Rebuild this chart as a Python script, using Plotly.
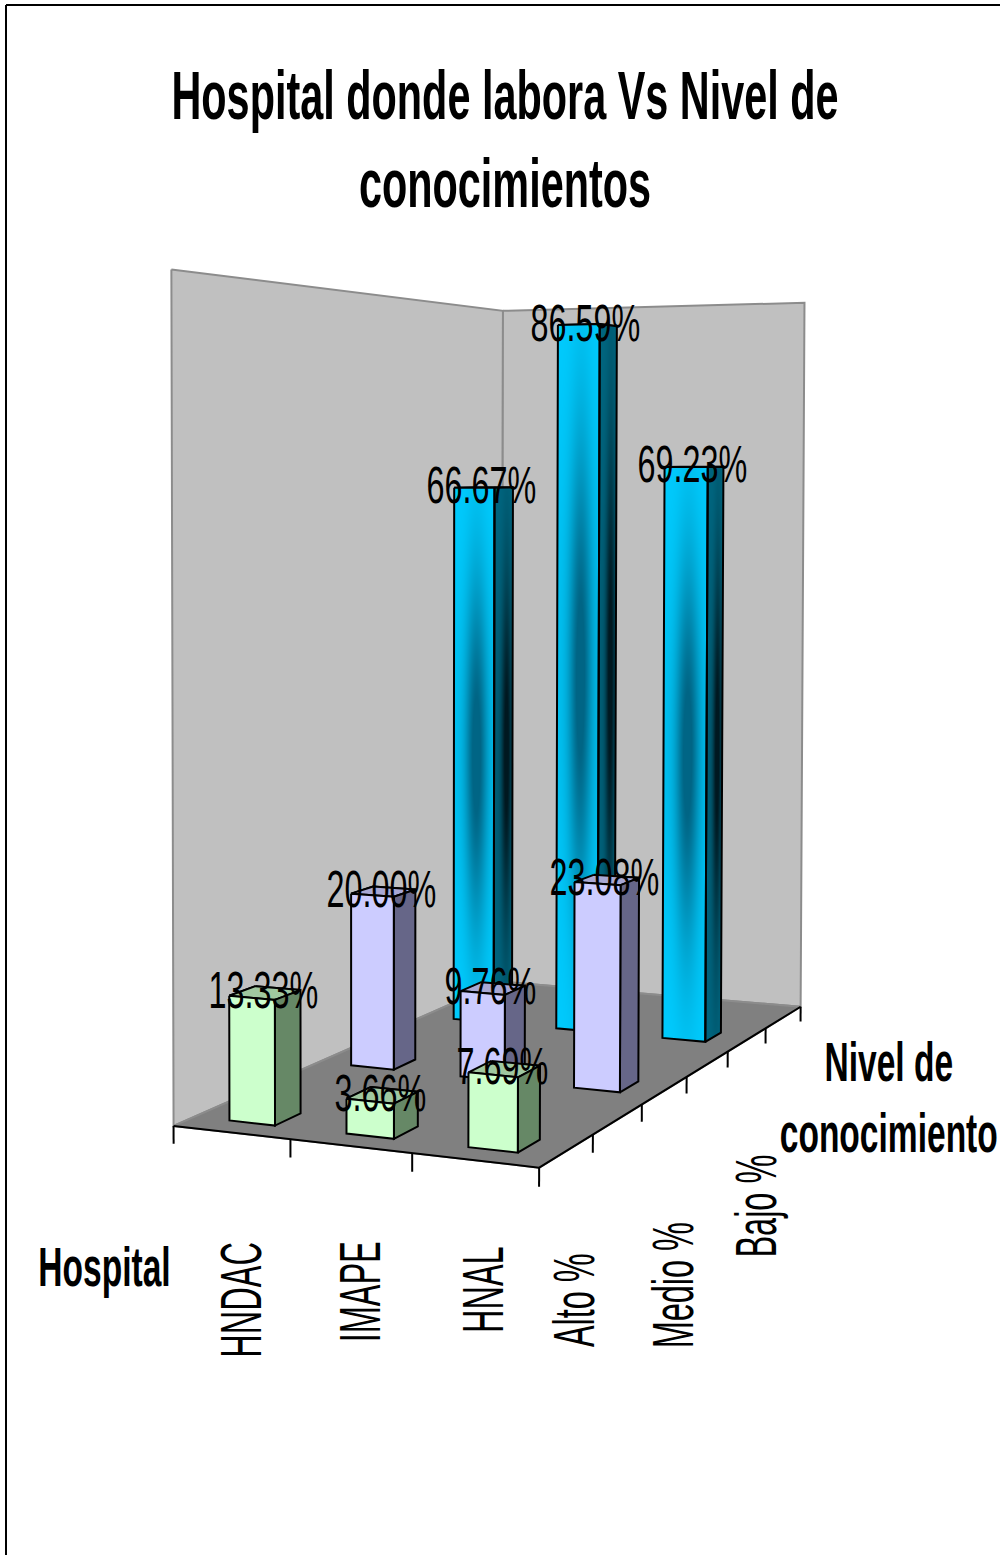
import json
import numpy as np
import plotly.graph_objects as go

# ---- data ----
hospitals = ["HNDAC", "IMAPE", "HNAL"]
levels = ["Alto %", "Medio %", "Bajo %"]
alto = [13.33, 3.66, 7.69]
medio = [20.00, 9.76, 23.08]
bajo = [66.67, 86.59, 69.23]

chart_title = "Hospital donde labora Vs Nivel de<br>conocimientos"
hospital_axis_title = "Hospital"
level_axis_title = "Nivel de<br>conocimiento"

# ---- style ----
WIDTH, HEIGHT = 1000, 1555
Z_TOP = 90.0
HALF_X, HALF_Y = 0.197, 0.10
ROW_CENTRES = [0.255, 1.25, 2.24]
FONT = "Liberation Sans"
WALL, WALL_EDGE, FLOOR = "#C0C0C0", "#8C8C8C", "#808080"
PALETTE = {
    "alto": dict(front="#CCFFCC", side="#668866", top="#A0C8A0"),
    "medio": dict(front="#CCCCFF", side="#666688", top="#A8A8D4"),
    "bajo": dict(front="#00CCFF", side="#006680", top="#006680"),
}
# horizontal squeeze applied to text, by font size
SQUEEZE = {51: 0.635, 58: 0.56, 55: 0.61, 68: 0.609}

# ---- camera: least-squares projection from the box corners of the plot frame ----
frame_model = [(0, 0, 0), (3, 0, 0), (3, 3, 0), (0, 3, 0),
               (0, 0, Z_TOP), (0, 3, Z_TOP), (3, 3, Z_TOP)]
frame_page = [(174, 1127), (538, 1167), (801, 1007), (502, 981),
              (172, 269), (502, 311), (805, 303)]


def fit_camera(model, page):
    rows = []
    for (X, Y, Z), (u, v) in zip(model, page):
        Z = Z / Z_TOP
        rows.append([X, Y, Z, 1, 0, 0, 0, 0, -u * X, -u * Y, -u * Z, -u])
        rows.append([0, 0, 0, 0, X, Y, Z, 1, -v * X, -v * Y, -v * Z, -v])
    return np.linalg.svd(np.array(rows, float))[2][-1].reshape(3, 4)


CAMERA = fit_camera(frame_model, frame_page)


def project(x, y, z):
    h = CAMERA @ np.array([x, y, z / Z_TOP, 1.0])
    return h[0] / h[2], h[1] / h[2]


fig = go.Figure()

# Heatmaps always paint under scatter traces on one subplot, so the drawing is
# split over three stacked pairs of axes: base, glow, and everything in front.
BASE, GLOW, TOP = ("x", "y"), ("x2", "y2"), ("x3", "y3")


def polygon(points, fill=None, line=None, width=2, layer=TOP):
    xs, ys = zip(*points)
    closed = fill is not None
    fig.add_trace(go.Scatter(
        x=list(xs) + ([xs[0]] if closed else []),
        y=list(ys) + ([ys[0]] if closed else []),
        xaxis=layer[0], yaxis=layer[1],
        mode="lines",
        fill="toself" if closed else "none",
        fillcolor=fill,
        line=dict(color=line or "rgba(0,0,0,0)", width=width),
        hoverinfo="skip",
        showlegend=False,
    ))


def shade_face(quad, centre_u, colorscale):
    """Dark elliptical glow on a bar face; quad is top-left, top-right, bottom-right, bottom-left."""
    q = np.array(quad)
    xs = np.arange(np.floor(q[:, 0].min()), np.ceil(q[:, 0].max()) + 1)
    ys = np.arange(np.floor(q[:, 1].min()), np.ceil(q[:, 1].max()) + 1)
    px, py = np.meshgrid(xs, ys)
    top_mean = (q[0, 1] + q[1, 1]) / 2
    bot_mean = (q[2, 1] + q[3, 1]) / 2
    v0 = (py - top_mean) / (bot_mean - top_mean)
    left = q[0, 0] + (q[3, 0] - q[0, 0]) * v0
    right = q[1, 0] + (q[2, 0] - q[1, 0]) * v0
    u = (px - left) / (right - left)
    top = q[0, 1] + (q[1, 1] - q[0, 1]) * u
    bot = q[3, 1] + (q[2, 1] - q[3, 1]) * u
    v = (py - top) / (bot - top)
    d = np.exp(-((u - centre_u) / 0.27) ** 2) * np.exp(-((v - 0.5) / 0.32) ** 2)
    d = d + 0.12 * np.exp(-((v - 0.5) / 0.36) ** 2)
    d = np.round(np.clip(d, 0, 1), 3)
    d[(u < 0) | (u > 1) | (v < 0) | (v > 1)] = np.nan
    fig.add_trace(go.Heatmap(x=xs, y=ys, z=d, zmin=0, zmax=1, colorscale=colorscale,
                             xaxis=GLOW[0], yaxis=GLOW[1],
                             showscale=False, hoverinfo="skip"))


def draw_bar(col, row, value, colours, glow=False):
    cx, cy = col + 0.5, ROW_CENTRES[row]
    x0, x1 = cx - HALF_X, cx + HALF_X
    y0, y1 = cy - HALF_Y, cy + HALF_Y
    top = [project(x0, y1, value), project(x1, y1, value), project(x1, y0, value), project(x0, y0, value)]
    side = [project(x1, y0, value), project(x1, y1, value), project(x1, y1, 0), project(x1, y0, 0)]
    front = [project(x0, y0, value), project(x1, y0, value), project(x1, y0, 0), project(x0, y0, 0)]
    polygon(top, colours["top"], "#000000", layer=BASE)
    if glow:
        polygon(side, colours["side"], layer=BASE)
        polygon(front, colours["front"], layer=BASE)
        shade_face(side, 0.65, [[0, "#006680"], [1, "#001820"]])
        shade_face(front, 0.55, [[0, "#00CCFF"], [1, "#006585"]])
        polygon(side + side[:1], None, "#000000")
        polygon(front + front[:1], None, "#000000")
    else:
        polygon(top, colours["top"], "#000000")
        polygon(side, colours["side"], "#000000")
        polygon(front, colours["front"], "#000000")


# ---- walls and floor ----
polygon([project(0, 0, Z_TOP), project(0, 3, Z_TOP), project(0, 3, 0), project(0, 0, 0)], WALL, WALL_EDGE, layer=BASE)
polygon([project(0, 3, Z_TOP), project(3, 3, Z_TOP), project(3, 3, 0), project(0, 3, 0)], WALL, WALL_EDGE, layer=BASE)
polygon([project(0, 0, 0), project(3, 0, 0), project(3, 3, 0), project(0, 3, 0)], FLOOR, WALL_EDGE, layer=BASE)
polygon([project(0, 0, 0), project(3, 0, 0), project(3, 3, 0)], None, "#000000", layer=BASE)

# ---- axis ticks hang below the floor edges ----
TICK = -1.9
for i in range(len(hospitals) + 1):
    polygon([project(i, 0, 0), project(i, 0, TICK)], None, "#000000", layer=BASE)
for j in range(1, 2 * len(levels) + 1):
    polygon([project(3, j / 2, 0), project(3, j / 2, TICK)], None, "#000000", layer=BASE)

# ---- bars, painted from the back row to the front row ----
series = [("alto", alto), ("medio", medio), ("bajo", bajo)]
for row in (2, 1, 0):
    name, values = series[row]
    for col, value in enumerate(values):
        draw_bar(col, row, value, PALETTE[name], glow=name == "bajo")

annotations = []


def label(text, x, y, size, angle=0, bold=False):
    annotations.append(dict(
        text=f"<b>{text}</b>" if bold else text, x=x, y=y, xref="x", yref="y",
        showarrow=False, textangle=angle, xanchor="center", yanchor="middle",
        font=dict(family=FONT, size=size, color="#000000"),
    ))


# value labels sit on the centre of each bar top
for row, (name, values) in enumerate(series):
    for col, value in enumerate(values):
        px, py = project(col + 0.5, ROW_CENTRES[row], value)
        label(f"{value:.2f}%", px - 2, py - 2, 51)

# category labels
for name, x, y in zip(hospitals, (240, 359, 482), (1300, 1292, 1290)):
    label(name, x, y, 58, angle=-90)
for name, x, y in zip(levels, (573, 672, 755), (1300, 1285, 1206)):
    label(name, x, y, 58, angle=-90)
label(hospital_axis_title, 104, 1267, 55, bold=True)
label(level_axis_title, 889, 1098, 55, bold=True)

hidden = dict(range=[0, WIDTH], visible=False, fixedrange=True)
hidden_y = dict(range=[HEIGHT, 0], visible=False, fixedrange=True)
fig.update_layout(
    width=WIDTH, height=HEIGHT,
    margin=dict(l=0, r=0, t=0, b=0),
    paper_bgcolor="#FFFFFF", plot_bgcolor="#FFFFFF",
    showlegend=False,
    title=dict(text=f"<b>{chart_title}</b>", x=505 / WIDTH, xanchor="center",
               y=1 - 119 / HEIGHT, yanchor="top", yref="container",
               font=dict(family=FONT, size=68, color="#000000")),
    xaxis=hidden, yaxis=hidden_y,
    xaxis2=dict(hidden, overlaying="x"), yaxis2=dict(hidden_y, overlaying="y"),
    xaxis3=dict(hidden, overlaying="x"), yaxis3=dict(hidden_y, overlaying="y"),
    annotations=annotations,
    shapes=[
        dict(type="line", xref="x", yref="y", x0=6, x1=WIDTH, y0=5, y1=5, line=dict(color="#000000", width=2)),
        dict(type="line", xref="x", yref="y", x0=6, x1=6, y0=5, y1=HEIGHT, line=dict(color="#000000", width=2)),
    ],
)

# narrow every text run along its own baseline
squeeze_js = """
var squeeze = %s;
document.querySelectorAll('.annotation-text, .gtitle').forEach(function (t) {
  var k = squeeze[Math.round(parseFloat(t.style.fontSize))] || 1;
  var b = t.getBBox();
  var c = b.x + b.width / 2;
  var old = t.getAttribute('transform') || '';
  t.setAttribute('transform', old + ' translate(' + c + ' 0) scale(' + k + ' 1) translate(' + (-c) + ' 0)');
});
""" % json.dumps(SQUEEZE)

fig.write_html("out.html", post_script=squeeze_js, config={"displayModeBar": False})
